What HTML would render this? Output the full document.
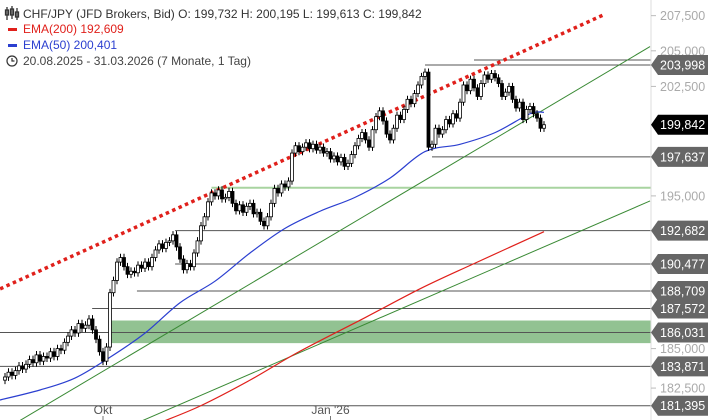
<!DOCTYPE html>
<html><head><meta charset="utf-8">
<style>
body{margin:0;background:#fff;font-family:"Liberation Sans",sans-serif;}
svg{display:block}
</style></head>
<body>
<svg id="chart" width="710" height="420" viewBox="0 0 710 420" xmlns="http://www.w3.org/2000/svg" font-family="Liberation Sans, sans-serif">
  <rect x="0" y="0" width="710" height="420" fill="#fff"/>
  <g id="levels"></g>
  <g id="trend"></g>
  <g id="emas"></g>
  <g id="candles"></g>
  <line x1="651" y1="0" x2="651" y2="420" stroke="#ddd"/>
  <g id="axis"></g>
  <g id="taxis"></g>
  <g font-size="12">
    <g stroke="#333" fill="none" stroke-width="1.3">
      <line x1="7" y1="7" x2="7" y2="20"/><rect x="5.5" y="10" width="3" height="5"/>
      <line x1="12" y1="6" x2="12" y2="19"/><rect x="10.5" y="9" width="3" height="6"/>
      <line x1="17" y1="8" x2="17" y2="20"/><rect x="15.5" y="12" width="3" height="5"/>
    </g>
    <text x="23" y="18" fill="#333">CHF/JPY (JFD Brokers, Bid)  O: 199,732  H: 200,195  L: 199,613  C: 199,842</text>
    <rect x="8" y="28" width="9" height="3" fill="#e0201b"/>
    <text x="23" y="33" fill="#e0201b">EMA(200)  192,609</text>
    <rect x="8" y="44" width="9" height="3" fill="#2b3fd0"/>
    <text x="23" y="49" fill="#2b3fd0">EMA(50)  200,401</text>
    <circle cx="12" cy="61" r="5" fill="none" stroke="#333" stroke-width="1.2"/>
    <path d="M12 58 V61 H14.5" fill="none" stroke="#333" stroke-width="1.2"/>
    <text x="23" y="65" fill="#444">20.08.2025 - 31.03.2026   (7 Monate, 1 Tag)</text>
  </g>
</svg>
<script>
const closes=[183.2,183.5,183.3,183.6,183.9,183.7,184.0,184.3,184.1,184.6,184.2,184.5,
184.4,184.8,184.5,185.0,184.9,185.4,185.8,186.2,186.0,186.6,186.3,186.5,
186.9,186.2,185.6,184.8,184.2,185.1,188.6,189.4,190.6,190.9,190.3,189.8,190.0,
189.9,190.4,190.2,190.6,190.3,190.9,191.4,191.8,191.5,191.9,
192.0,192.4,191.6,190.8,190.1,190.5,190.3,191.2,192.0,193.0,193.6,
194.6,195.2,195.0,195.4,194.8,194.9,195.3,194.5,194.0,194.4,193.9,
194.3,194.5,193.8,193.9,193.3,193.0,193.6,194.5,195.5,195.2,
195.8,195.6,196.0,197.9,198.4,198.0,198.3,198.6,198.2,198.5,
198.1,198.3,197.9,198.0,197.5,197.7,197.3,197.6,197.0,197.2,197.8,
198.4,198.9,199.3,198.8,198.3,199.5,200.4,200.8,200.1,199.2,
198.8,199.6,200.5,200.2,200.9,201.6,201.3,202.0,202.6,203.2,
203.5,198.3,198.5,199.6,199.2,199.5,200.2,199.9,200.6,
200.3,201.4,202.6,202.2,203.0,202.4,201.8,202.7,203.3,203.0,
203.4,203.1,202.7,201.8,202.1,202.5,201.6,201.0,201.4,200.2,
200.9,201.1,200.6,200.3,199.6,199.842];
const firstOpen=183.0;
const ema50Idx=[-1.5,10,20,30,40,50,60,70,80,90,100,110,120,130,140,150,154];
const ema50Val=[181.75,182.38,183.13,184.45,185.99,187.95,189.35,191.2,192.83,193.97,194.9,196.2,198.0,198.5,199.3,200.6,200.7];
const ema200Idx=[45,56,70,84,103,119,134,154];
const ema200Val=[180.4,181.4,183.0,184.8,187.0,188.9,190.5,192.609];
const levelVals=[203.998,197.637,192.682,190.477,188.709,187.572,186.031,183.871,181.395];
const levelStartIdx=[120,122,48.6,48.6,37.7,24.9,-3,-3,-3];
const extraLevelVals=[204.35];
const extraLevelStart=[134];
const supportLine=195.55, supportStart=59;
const zoneTop=186.8, zoneBottom=185.35, zoneStart=30;
const ticks=[207.5,205,202.5,195,185,182.5];
const tickLabels=["207,500","205,000","202,500","195,000","185,000","182,500"];
const timeIdx=[28,93];
const timeLabels=["Okt","Jan '26"];
const redTrend=[[-1.4,188.85],[171.4,207.6]];
const greenTrend1=[[1.4,180.1],[184.3,205.3]];
const greenTrend2=[[38.6,180.4],[184.3,194.66]];
const lastPrice=199.842;

const NS="http://www.w3.org/2000/svg";
const X=i=>5+i*3.5;
const Y=p=>405.7-2901*Math.log(p/181.395);
const AX=651;
function mk(tag,attrs,parent){const e=document.createElementNS(NS,tag);for(const k in attrs)e.setAttribute(k,attrs[k]);parent.appendChild(e);return e;}
const fmt=v=>v.toFixed(3).replace('.',',');

const L=document.getElementById('levels');
let z=mk('rect',{x:X(zoneStart),y:Y(zoneTop),width:AX-X(zoneStart),height:Y(zoneBottom)-Y(zoneTop),fill:'#8cbf8c',opacity:0.95},L);


let s=mk('line',{x1:X(supportStart),x2:AX,y1:Y(supportLine),y2:Y(supportLine),stroke:'#a8d4a0','stroke-width':2},L);


levelVals.forEach((v,k)=>{
  const l=mk('line',{x1:Math.max(0,X(levelStartIdx[k])),x2:AX,y1:Y(v),y2:Y(v),stroke:'#555','stroke-width':1},L);
  
  
});
extraLevelVals.forEach((v,k)=>{
  const l=mk('line',{x1:X(extraLevelStart[k]),x2:AX,y1:Y(v),y2:Y(v),stroke:'#555','stroke-width':1},L);
  
  
});

const T=document.getElementById('trend');
function tline(a,col,extra,name){
  const e=mk('line',Object.assign({x1:X(a[0][0]),y1:Y(a[0][1]),x2:X(a[1][0]),y2:Y(a[1][1]),stroke:col},extra),T);
  
  
}
tline(redTrend,'#e0201b',{'stroke-width':3.5,'stroke-dasharray':'3.5 3.5'},'resistance-trendline');
tline(greenTrend1,'#3a8a35',{'stroke-width':1},'support-trendline');
tline(greenTrend2,'#3a8a35',{'stroke-width':1},'lower-trendline');

const E=document.getElementById('emas');
function smoothPath(pts){
  let d='M'+pts[0][0]+' '+pts[0][1];
  for(let k=0;k<pts.length-1;k++){
    const p0=pts[Math.max(0,k-1)],p1=pts[k],p2=pts[k+1],p3=pts[Math.min(pts.length-1,k+2)];
    const c1x=p1[0]+(p2[0]-p0[0])/6,c1y=p1[1]+(p2[1]-p0[1])/6;
    const c2x=p2[0]-(p3[0]-p1[0])/6,c2y=p2[1]-(p3[1]-p1[1])/6;
    d+=` C${c1x} ${c1y} ${c2x} ${c2y} ${p2[0]} ${p2[1]}`;
  }
  return d;
}
function curve(idx,val,col,name){
  const p=mk('path',{d:smoothPath(idx.map((i,k)=>[X(i),Y(val[k])])),fill:'none',stroke:col,'stroke-width':1.2},E);
  
  
}
curve(ema200Idx,ema200Val,'#e0201b','ema200-line');
curve(ema50Idx,ema50Val,'#2b3fd0','ema50-line');

const C=document.getElementById('candles');
closes.forEach((c,i)=>{
  const o=i?closes[i-1]:firstOpen;
  const hi=Math.max(o,c)+0.25, lo=Math.min(o,c)-0.25;
  const x=X(i);
  const g=mk('g',{},C);
  
  
  mk('line',{x1:x,x2:x,y1:Y(hi),y2:Y(lo),stroke:'#000','stroke-width':1},g);
  const top=Y(Math.max(o,c)),h=Math.max(1,Y(Math.min(o,c))-top);
  mk('rect',{x:x-1.5,y:top,width:3,height:h,fill:c<o?'#000':'#fff',stroke:'#000','stroke-width':0.8},g);
});

const A=document.getElementById('axis');
ticks.forEach((t,k)=>{
  const y=Y(t);
  const tk=mk('line',{x1:AX,x2:AX+5,y1:y,y2:y,stroke:'#bbb'},A);
  
  
  const tx=mk('text',{x:660,y:y+4.5,'font-size':12.5,fill:'#aaa'},A);
  tx.textContent=tickLabels[k];
  
  
});
function tag(v,col,name){
  const y=Y(v);
  const g=mk('g',{},A);
  
  
  mk('path',{d:`M${AX} ${y} L${AX+7} ${y-10} H708 V${y+10} H${AX+7} Z`,fill:col},g);
  const t=mk('text',{x:660,y:y+4.5,'font-size':12.5,fill:'#fff'},g);
  t.textContent=fmt(v);
}
levelVals.forEach(v=>tag(v,'#666','level-price-tag'));
tag(lastPrice,'#000','last-price-tag');

const TA=document.getElementById('taxis');
timeIdx.forEach((i,k)=>{
  const x=X(i);
  const t=mk('text',{x:x,y:414,'font-size':12,fill:'#555','text-anchor':'middle'},TA);
  t.textContent=timeLabels[k];
  
  
  const tk=mk('line',{x1:x,x2:x,y1:416,y2:420,stroke:'#777'},TA);
  
  
});
</script>
</body></html>
